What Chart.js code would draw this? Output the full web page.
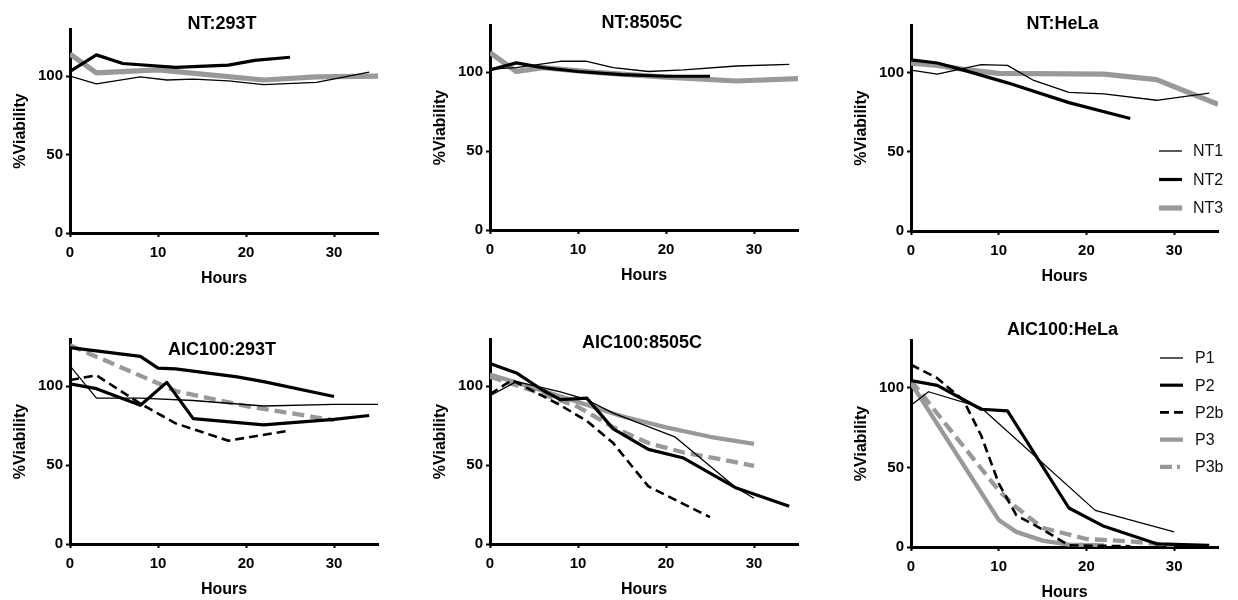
<!DOCTYPE html>
<html>
<head>
<meta charset="utf-8">
<script src="https://cdn.jsdelivr.net/npm/chart.js@4.4.1/dist/chart.umd.min.js"></script>
<style>
  html, body { margin: 0; padding: 0; background: #fff; width: 1238px; height: 600px; overflow: hidden; position: relative; }
  .panel { position: absolute; }
</style>
</head>
<body>
<script>
// --- Datos: [horas, %viabilidad] ---
const xTicks = [0, 10, 20, 30];
const yTicks = [0, 50, 100];
const legendNT = ['NT1', 'NT2', 'NT3'];
const legendP = ['P1', 'P2', 'P2b', 'P3', 'P3b'];

// NT:293T
const nt293_NT1 = [[0, 100], [3, 95], [8, 99.5], [11, 97.5], [14, 98], [18, 97], [22, 94.5], [28, 96], [34, 102.5]];
const nt293_NT2 = [[0, 103], [3, 113.5], [6, 108], [12, 105.5], [18, 107], [21, 110], [25, 112]];
const nt293_NT3 = [[0, 114], [3, 102], [10, 104], [22, 97.5], [28, 99.5], [35, 100]];
// NT:8505C
const nt8505_NT1 = [[0, 102], [3, 103], [8, 107], [11, 107], [14, 103], [18, 100.5], [22, 101.5], [28, 104], [34, 105]];
const nt8505_NT2 = [[0, 101.5], [3, 106], [6, 103], [10, 100.5], [15, 98.5], [20, 97.5], [25, 97.5]];
const nt8505_NT3 = [[0, 112.5], [3, 100.5], [6, 103], [12, 100], [20, 97], [28, 94.5], [35, 96]];
// NT:HeLa
const ntHela_NT1 = [[0, 101.5], [3, 99], [8, 105], [11, 104.5], [14, 95], [18, 87.5], [22, 86.5], [28, 82.5], [34, 87]];
const ntHela_NT2 = [[0, 108], [3, 106], [6, 101.5], [11, 93.5], [18, 81], [25, 71]];
const ntHela_NT3 = [[0, 106], [3, 104.5], [6, 102], [10, 99.5], [22, 99], [28, 95.5], [35, 80]];
// AIC100:293T
const aic293_P1 = [[0, 113], [3, 92.5], [8, 92.5], [14, 91], [22, 87.5], [30, 88.5], [35, 88.5]];
const aic293_P2 = [[0, 101.5], [3, 98.5], [8, 88], [11, 102.5], [14, 79.5], [22, 75.5], [30, 79], [34, 81.5]];
const aic293_P2b = [[0, 104], [3, 107], [8, 89], [12, 76.5], [18, 65.5], [25, 72]];
const aic293_P3 = [[0, 124.5], [8, 119], [10, 111.5], [12, 111], [19, 106], [22, 103], [30, 93.5]];
const aic293_P3b = [[0, 126], [5, 114], [12, 97], [20, 87.5], [30, 78.5]];
// AIC100:8505C
const aic8505_P1 = [[0, 94], [3, 103], [8, 96.5], [11, 91.5], [14, 83], [21, 68], [28, 35.5], [30, 29]];
const aic8505_P2 = [[0, 114.5], [3, 108.5], [6, 97.5], [8, 91.5], [11, 92.5], [14, 73], [18, 60], [22, 54.5], [28, 35.5], [34, 24]];
const aic8505_P2b = [[0, 95], [2.5, 104], [8, 88], [11, 78], [14, 64], [18, 36.5], [25, 17]];
const aic8505_P3 = [[0, 107.5], [5, 99], [10, 90], [15, 81], [20, 74], [25, 68], [30, 63.5]];
const aic8505_P3b = [[0, 106], [5, 97], [10, 87], [14, 74], [18, 64], [22, 58], [26, 54], [30, 49.5]];
// AIC100:HeLa
const aicHela_P1 = [[0, 89], [2, 97.5], [8, 87.5], [21, 23], [30, 9.5]];
const aicHela_P2 = [[0, 104.5], [3, 101.5], [8, 86.5], [11, 85.5], [18, 24.5], [22, 13], [28, 2], [34, 1]];
const aicHela_P2b = [[0, 114.5], [3, 106], [6, 92], [8, 70], [10, 40], [12, 20], [15, 11], [18, 1], [25, 0.5]];
const aicHela_P3 = [[0, 103], [10, 17], [12, 9.5], [15, 4], [18, 1.5], [22, 1]];
const aicHela_P3b = [[0, 104.5], [10, 35.5], [12, 25], [15, 12], [20, 5], [25, 3.5], [30, 1]];

// --- Estilos de línea ---
const GRAY = '#999999';
const styles = {
    thin:   { borderColor: '#000', borderWidth: 1.3, borderDash: [], order: 1 },
    thick:  { borderColor: '#000', borderWidth: 3.2, borderDash: [], order: 1 },
    dashK:  { borderColor: '#000', borderWidth: 2.6, borderDash: [9, 5], order: 1 },
    grayNT: { borderColor: GRAY, borderWidth: 5.2, borderDash: [], order: 2 },
    gray:   { borderColor: GRAY, borderWidth: 4.3, borderDash: [], order: 2 },
    dashG:  { borderColor: GRAY, borderWidth: 4.3, borderDash: [12, 6], order: 2 },
    dashDotG: { borderColor: GRAY, borderWidth: 4.3, borderDash: [12, 5, 3, 5], order: 2 }
};

const FONT = "'Liberation Sans', Arial, Helvetica, sans-serif";

// área de trazado de cada panel en coordenadas de página [izq, arriba, der, abajo]
const panels = [
    { title: 'NT:293T', area: [70, 29, 378, 233], titleY: 29,
      series: [['NT1', 'thin', nt293_NT1], ['NT2', 'thick', nt293_NT2], ['NT3', 'grayNT', nt293_NT3]] },
    { title: 'NT:8505C', area: [490, 25, 798, 230], titleY: 28,
      series: [['NT1', 'thin', nt8505_NT1], ['NT2', 'thick', nt8505_NT2], ['NT3', 'grayNT', nt8505_NT3]] },
    { title: 'NT:HeLa', area: [911, 25, 1218, 231], titleY: 29,
      series: [['NT1', 'thin', ntHela_NT1], ['NT2', 'thick', ntHela_NT2], ['NT3', 'grayNT', ntHela_NT3]],
      legend: { names: legendNT, keys: ['thin', 'thick', 'grayNT'], x: 1159, y: 151, dy: 28.5, tx: 1193 } },
    { title: 'AIC100:293T', area: [70, 339, 378, 544], titleY: 355,
      series: [['P1', 'thin', aic293_P1], ['P2', 'thick', aic293_P2], ['P2b', 'dashK', aic293_P2b],
               ['P3', 'thick', aic293_P3], ['P3b', 'dashG', aic293_P3b]] },
    { title: 'AIC100:8505C', area: [490, 339, 798, 544], titleY: 348,
      series: [['P1', 'thin', aic8505_P1], ['P2', 'thick', aic8505_P2], ['P2b', 'dashK', aic8505_P2b],
               ['P3', 'gray', aic8505_P3], ['P3b', 'dashG', aic8505_P3b]] },
    { title: 'AIC100:HeLa', area: [911, 340, 1218, 547], titleY: 335,
      series: [['P1', 'thin', aicHela_P1], ['P2', 'thick', aicHela_P2], ['P2b', 'dashK', aicHela_P2b],
               ['P3', 'gray', aicHela_P3], ['P3b', 'dashG', aicHela_P3b]],
      legend: { names: legendP, keys: ['thin', 'thick', 'dashK', 'gray', 'dashDotG'], x: 1160, y: 358, dy: 27.2, tx: 1195 } }
];

// título y leyenda dibujados a mano, en coordenadas de página
const decoPlugin = {
    id: 'deco',
    afterDraw(chart, args, opts) {
        const ctx = chart.ctx;
        const p = opts.panel;
        const ca = chart.chartArea;
        ctx.save();
        ctx.fillStyle = '#000';
        ctx.font = 'bold 18px ' + FONT;
        ctx.textAlign = 'center';
        ctx.textBaseline = 'alphabetic';
        ctx.fillText(p.title, (ca.left + ca.right) / 2 - 2, p.titleY - opts.offY);
        if (p.legend) {
            const lg = p.legend;
            lg.names.forEach((name, i) => {
                const st = styles[lg.keys[i]];
                const y = lg.y + i * lg.dy - opts.offY;
                ctx.beginPath();
                ctx.strokeStyle = st.borderColor;
                ctx.lineWidth = st.borderWidth;
                ctx.setLineDash(st.borderDash);
                ctx.moveTo(lg.x - opts.offX, y);
                ctx.lineTo(lg.x + 23 - opts.offX, y);
                ctx.stroke();
                ctx.setLineDash([]);
                ctx.font = '16px ' + FONT;
                ctx.textAlign = 'left';
                ctx.textBaseline = 'middle';
                ctx.fillStyle = '#111';
                ctx.fillText(name, lg.tx - opts.offX, y + 1);
            });
        }
        ctx.restore();
    }
};

function makePanel(p) {
    const [L, T, R, B] = p.area;
    const padL = 70, padT = 30, padR = 12, padB = 60;
    const w = R - L + padL + padR, h = B - T + padT + padB;
    const div = document.createElement('div');
    div.className = 'panel';
    div.style.left = (L - padL) + 'px';
    div.style.top = (T - padT) + 'px';
    div.style.width = w + 'px';
    div.style.height = h + 'px';
    const cv = document.createElement('canvas');
    cv.width = w; cv.height = h;
    div.appendChild(cv);
    document.body.appendChild(div);

    const tickFont = { family: FONT, size: 15, weight: 'bold' };
    new Chart(cv, {
        type: 'line',
        data: {
            datasets: p.series.map(([name, key, pts]) => ({
                label: name,
                data: pts.map(([x, y]) => ({ x: x, y: y })),
                borderColor: styles[key].borderColor,
                borderWidth: styles[key].borderWidth,
                borderDash: styles[key].borderDash,
                order: styles[key].order,
                pointRadius: 0,
                tension: 0,
                fill: false,
                borderJoinStyle: 'round'
            }))
        },
        options: {
            responsive: false,
            animation: false,
            layout: { padding: { left: 0, top: padT, right: padR, bottom: 0 } },
            scales: {
                x: {
                    type: 'linear', min: 0, max: 35,
                    afterFit: s => { s.height = padB; },
                    afterBuildTicks: s => { s.ticks = xTicks.map(v => ({ value: v })); },
                    grid: { drawOnChartArea: false, drawTicks: true, tickLength: 4, tickWidth: 2, tickColor: '#000' },
                    border: { display: true, width: 3, color: '#000' },
                    ticks: { color: '#000', font: tickFont, padding: 7, maxRotation: 0 },
                    title: { display: true, text: 'Hours', color: '#000', font: { family: FONT, size: 16, weight: 'bold' }, padding: { top: 0, bottom: 5 } }
                },
                y: {
                    type: 'linear', min: 0, max: 130,
                    afterFit: s => { s.width = padL; },
                    afterBuildTicks: s => { s.ticks = yTicks.map(v => ({ value: v })); },
                    grid: { drawOnChartArea: false, drawTicks: true, tickLength: 4, tickWidth: 2, tickColor: '#000' },
                    border: { display: true, width: 3, color: '#000' },
                    ticks: { color: '#000', font: tickFont, padding: 3 },
                    title: { display: true, text: '%Viability', color: '#000', font: { family: FONT, size: 16, weight: 'bold' }, padding: { top: 11, bottom: 0 } }
                }
            },
            plugins: {
                legend: { display: false },
                tooltip: { enabled: false },
                deco: { panel: p, offX: L - padL, offY: T - padT }
            }
        },
        plugins: [decoPlugin]
    });
}

panels.forEach(makePanel);
</script>
</body>
</html>
